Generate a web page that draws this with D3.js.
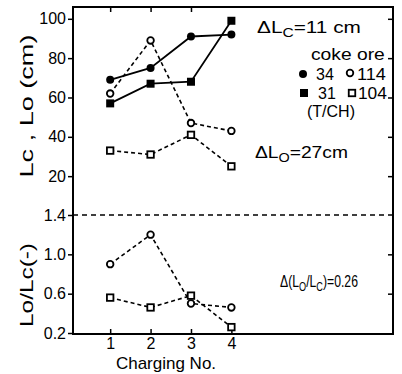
<!DOCTYPE html>
<html>
<head>
<meta charset="utf-8">
<script src="https://cdn.jsdelivr.net/npm/d3@7"></script>
<style>
  body { margin: 0; background: #fff; }
  svg { display: block; font-family: "Liberation Sans", Arial, sans-serif; }
</style>
</head>
<body>
<svg id="chart" width="402" height="374"></svg>
<script>
// charging number on x, one value per charge
const charging = [1, 2, 3, 4];
// Lc (cm) for coke 34 and 31 T/CH
const lcCoke34 = [69, 75, 91, 92];
const lcCoke31 = [57, 67, 68, 99];
// Lo (cm) for ore 114 and 104 T/CH
const loOre114 = [62, 89, 47, 43];
const loOre104 = [33, 31, 41, 25];
// Lo/Lc ratio
const ratio114 = [0.90, 1.20, 0.50, 0.46];
const ratio104 = [0.56, 0.46, 0.58, 0.26];

const upperTicks = [20, 40, 60, 80, 100];
const lowerTicks = [0.2, 0.6, 1.0, 1.4];
const xTicks = [1, 2, 3, 4];

const svg = d3.select('#chart');
const frameL = 73, frameR = 393, frameT = 7, frameB = 334;

const x = d3.scaleLinear().domain([0.08, 8]).range([frameL, frameR]);
const yUp = d3.scaleLinear().domain([0, 106]).range([215.5, frameT]);
const yLow = d3.scaleLinear().domain([0.19, 1.4]).range([frameB, 215]);

// frame
svg.append('rect')
    .attr('x', frameL).attr('y', frameT)
    .attr('width', frameR - frameL).attr('height', frameB - frameT)
    .attr('fill', 'none').attr('stroke', '#000').attr('stroke-width', 2);

// 1.4 divider
svg.append('line')
    .attr('x1', frameL).attr('x2', frameR)
    .attr('y1', yLow(1.4)).attr('y2', yLow(1.4))
    .attr('stroke', '#000').attr('stroke-width', 1.5)
    .attr('stroke-dasharray', '5,4');

// left axes (outer ticks)
svg.append('g').attr('transform', `translate(${frameL},0)`)
    .call(d3.axisLeft(yUp).tickValues(upperTicks).tickSize(5).tickPadding(2));
svg.append('g').attr('transform', `translate(${frameL},0)`)
    .call(d3.axisLeft(yLow).tickValues(lowerTicks).tickSize(5).tickPadding(2)
        .tickFormat(d3.format('.1f')));
// bottom axis (inner ticks, labels below)
svg.append('g').attr('transform', `translate(0,${frameB})`)
    .call(d3.axisBottom(x).tickValues(xTicks).tickSizeInner(-5).tickSizeOuter(0).tickPadding(4));
// top and right inner ticks
svg.append('g').attr('transform', `translate(0,${frameT})`)
    .call(d3.axisTop(x).tickValues([1, 2, 3]).tickSizeInner(-5).tickSizeOuter(0).tickFormat(''));
svg.append('g').attr('transform', `translate(${frameR},0)`)
    .call(d3.axisRight(yUp).tickValues(upperTicks).tickSizeInner(-5).tickSizeOuter(0).tickFormat(''));
svg.append('g').attr('transform', `translate(${frameR},0)`)
    .call(d3.axisRight(yLow).tickValues([0.6, 1.0]).tickSizeInner(-5).tickSizeOuter(0).tickFormat(''));

svg.selectAll('.domain').remove();
svg.selectAll('.tick line').attr('stroke', '#000').attr('stroke-width', 1.5);
svg.selectAll('.tick text').attr('font-size', 16).attr('fill', '#000');

// lines
function drawSeries(vals, yScale, dashed) {
    const line = d3.line().x((d, i) => x(charging[i])).y(d => yScale(d));
    svg.append('path').datum(vals)
        .attr('d', line)
        .attr('fill', 'none').attr('stroke', '#000')
        .attr('stroke-width', dashed ? 1.6 : 1.8)
        .attr('stroke-dasharray', dashed ? '4,3' : null);
}
function drawMarks(vals, yScale, shape, filled) {
    const g = svg.append('g');
    vals.forEach((v, i) => addMark(g, x(charging[i]), yScale(v), shape, filled));
}
function addMark(g, cx, cy, shape, filled) {
    if (shape === 'circle') {
        g.append('circle').attr('cx', cx).attr('cy', cy)
            .attr('r', filled ? 4 : 3.3)
            .attr('fill', filled ? '#000' : '#fff')
            .attr('stroke', '#000').attr('stroke-width', filled ? 0 : 1.8);
    } else {
        const s = filled ? 8 : 6.5;
        g.append('rect').attr('x', cx - s / 2).attr('y', cy - s / 2)
            .attr('width', s).attr('height', s)
            .attr('fill', filled ? '#000' : '#fff')
            .attr('stroke', '#000').attr('stroke-width', filled ? 0 : 1.8);
    }
}

drawSeries(loOre114, yUp, true);
drawSeries(loOre104, yUp, true);
drawSeries(lcCoke34, yUp, false);
drawSeries(lcCoke31, yUp, false);
drawSeries(ratio114, yLow, true);
drawSeries(ratio104, yLow, true);
drawMarks(loOre114, yUp, 'circle', false);
drawMarks(loOre104, yUp, 'square', false);
drawMarks(lcCoke34, yUp, 'circle', true);
drawMarks(lcCoke31, yUp, 'square', true);
drawMarks(ratio114, yLow, 'circle', false);
drawMarks(ratio104, yLow, 'square', false);

// text with subscripts; parts as strings or {sub: 'x'}; squeezed to width
function label(tx, ty, parts, size, width, rot) {
    const base = `translate(${tx},${ty})` + (rot ? ` rotate(${rot})` : '');
    const g = svg.append('g').attr('transform', base);
    const t = g.append('text').attr('font-size', size);
    if (rot) t.attr('text-anchor', 'middle');
    let low = false;
    parts.forEach(p => {
        const s = t.append('tspan');
        if (typeof p === 'string') {
            if (low) s.attr('dy', -4);
            low = false;
            s.text(p);
        } else {
            if (!low) s.attr('dy', 4);
            low = true;
            s.attr('font-size', size * 0.75).text(p.sub);
        }
    });
    if (width) {
        const w = t.node().getBBox().width;
        if (w > 0) g.attr('transform', `${base} scale(${width / w},1)`);
    }
    return g;
}

label(257, 33, ['\u0394L', { sub: 'C' }, '=11 cm'], 17, 104);
label(311, 60, ['coke  ore'], 16, 74);
label(316, 80, ['34'], 16);
label(357, 80, ['114'], 16, 29);
label(318, 99, ['31'], 16);
label(358, 99, ['104'], 16, 29);
label(307, 117, ['(T/CH)'], 16, 48);
const lg = svg.append('g');
addMark(lg, 303, 74, 'circle', true);
addMark(lg, 350, 73, 'circle', false);
addMark(lg, 304, 93, 'square', true);
addMark(lg, 352, 93, 'square', false);

label(255, 158, ['\u0394L', { sub: 'O' }, '=27cm'], 17, 93);
label(280, 287, ['\u0394(L', { sub: 'O' }, '/L', { sub: 'C' }, ')=0.26'], 17, 78);

svg.append('text').attr('x', 166).attr('y', 369)
    .attr('font-size', 17).attr('text-anchor', 'middle').text('Charging No.');

label(33, 106, ['Lc , Lo  (cm)'], 19, 143, -90);
label(33, 285, ['Lo/Lc(-)'], 19, 84, -90);
</script>
</body>
</html>
